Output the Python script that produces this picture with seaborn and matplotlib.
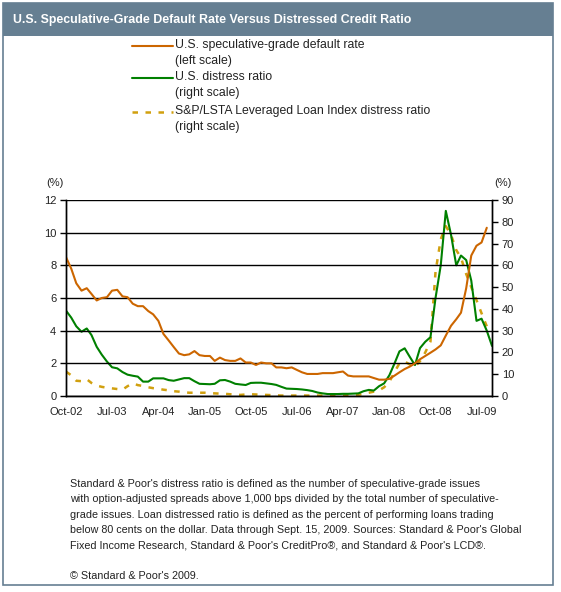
import numpy as np
import pandas as pd
import matplotlib
matplotlib.use("Agg")
import matplotlib.pyplot as plt
import matplotlib.patches as mpatches
import seaborn as sns

# ---------------- data (monthly, Oct-02 onwards) ----------------
start_month = "2002-10-01"
default_rate = [8.5, 7.8, 6.9, 6.45, 6.6, 6.25, 5.85, 6.0, 6.05, 6.45,
                6.5, 6.1, 6.05, 5.65, 5.5, 5.5, 5.2, 5.0, 4.6, 3.8,
                3.4, 3.0, 2.6, 2.5, 2.55, 2.75, 2.5, 2.45, 2.45, 2.15,
                2.35, 2.2, 2.15, 2.15, 2.3, 2.05, 2.05, 1.9, 2.05, 2.0,
                2.0, 1.75, 1.75, 1.7, 1.75, 1.6, 1.45, 1.35, 1.35, 1.35,
                1.4, 1.4, 1.4, 1.45, 1.5, 1.25, 1.2, 1.2, 1.2, 1.2,
                1.1, 1.0, 1.0, 1.05, 1.25, 1.45, 1.65, 1.8, 2.0, 2.25,
                2.45, 2.65, 2.85, 3.1, 3.7, 4.3, 4.7, 5.1, 6.6, 8.6,
                9.2, 9.4, 10.3]
distress_ratio = [39.2, 36, 32, 29.5, 31, 28, 22.6, 19, 15.8, 13.2,
                  12.7, 11, 9.8, 9.3, 8.9, 6.6, 6.6, 8.1, 8.1, 8.1,
                  7.3, 7.0, 7.6, 8.2, 8.2, 6.8, 5.6, 5.5, 5.4, 5.6,
                  7.2, 7.35, 6.6, 5.6, 5.3, 5.05, 6.0, 6.1, 6.1, 5.8,
                  5.5, 5.1, 4.2, 3.4, 3.3, 3.2, 3.0, 2.7, 2.3, 1.6,
                  1.2, 0.9, 0.9, 0.9, 1.0, 1.0, 1.1, 1.2, 2.2, 2.8,
                  2.5, 4.5, 5.8, 9.5, 15, 20.5, 21.9, 18, 14.2, 22,
                  24.9, 27, 45, 60, 85, 74, 60, 64.5, 62.4, 53,
                  34.5, 35.5, 30, 23]
loan_distress = [11.2, 9.5, 7.0, 6.8, 7.7, 6.0, 4.8, 4.2, 3.8, 3.5,
                 3.2, 2.9, 4.5, 5.8, 5.0, 4.6, 4.0, 3.6, 3.3, 2.9,
                 2.6, 2.2, 2.0, 1.7, 1.5, 1.5, 1.5, 1.5, 1.3, 1.2,
                 1.1, 1.0, 0.8, 0.6, 0.5, 0.7, 0.8, 0.7, 0.5, 0.5,
                 0.4, 0.3, 0.2, 0.2, 0.2, 0.2, 0.2, 0.2, 0.2, 0.2,
                 0.2, 0.2, 0.2, 0.2, 0.2, 0.3, 0.4, 0.5, 1.0, 1.5,
                 2.0, 2.6, 4.0, 6.5, 11, 15, 15.8, 14.5, 13.5, 16,
                 20, 25, 57, 72, 78, 74, 67, 63.5, 56, 50,
                 44, 38, 32]
tick_labels = ["Oct-02", "Jul-03", "Apr-04", "Jan-05", "Oct-05",
               "Jul-06", "Apr-07", "Jan-08", "Oct-08", "Jul-09"]
left_ticks = [0, 2, 4, 6, 8, 10, 12]
right_ticks = [0, 10, 20, 30, 40, 50, 60, 70, 80, 90]

series_names = ["U.S. speculative-grade default rate\n(left scale)",
                "U.S. distress ratio\n(right scale)",
                "S&P/LSTA Leveraged Loan Index distress ratio\n(right scale)"]

title = "U.S. Speculative-Grade Default Rate Versus Distressed Credit Ratio"
footnote = ("Standard & Poor's distress ratio is defined as the number of speculative-grade issues\n"
            "with option-adjusted spreads above 1,000 bps divided by the total number of speculative-\n"
            "grade issues. Loan distressed ratio is defined as the percent of performing loans trading\n"
            "below 80 cents on the dollar. Data through Sept. 15, 2009. Sources: Standard & Poor's Global\n"
            "Fixed Income Research, Standard & Poor's CreditPro\u00ae, and Standard & Poor's LCD\u00ae.")
copyright_txt = "\u00a9 Standard & Poor's 2009."

# ---------------- build frames ----------------
dates = pd.date_range(start_month, periods=len(distress_ratio), freq="MS")
df_def = pd.DataFrame({"date": dates[:len(default_rate)], "val": default_rate})
df_dis = pd.DataFrame({"date": dates[:len(distress_ratio)], "val": distress_ratio})
df_loan = pd.DataFrame({"date": dates[:len(loan_distress)], "val": loan_distress})

ORANGE = "#CC6600"
GREEN = "#008000"
GOLD = "#D1A00F"
BAR = "#667F92"
TXT = "#222222"

sns.set_style("white")
plt.rcParams["font.family"] = ["Liberation Sans", "DejaVu Sans"]

fig = plt.figure(figsize=(5.61, 5.92), dpi=100)
W, H = 561, 592

# frame and title bar
fig.patches.append(mpatches.Rectangle((3 / W, 1 - 585 / H), 550 / W, 582 / H,
                                      transform=fig.transFigure, fill=False,
                                      edgecolor=BAR, lw=1.2))
fig.patches.append(mpatches.Rectangle((3 / W, 1 - 36 / H), 550 / W, 33 / H,
                                      transform=fig.transFigure, facecolor=BAR,
                                      edgecolor=BAR, lw=0))
fig.text(13 / W, 1 - 20 / H, title, color="white", fontsize=8.9,
         fontweight="bold", va="center", ha="left")

ax = fig.add_axes([66 / W, 1 - 396 / H, 426 / W, 196 / H])
ax2 = ax.twinx()

sns.lineplot(data=df_def, x="date", y="val", ax=ax, color=ORANGE, lw=1.5)
sns.lineplot(data=df_loan, x="date", y="val", ax=ax2, color=GOLD, lw=1.8)
ax2.lines[-1].set_linestyle((0, (2.2, 3.0)))
sns.lineplot(data=df_dis, x="date", y="val", ax=ax2, color=GREEN, lw=1.5)

ax.set_zorder(ax2.get_zorder() + 1)
ax.patch.set_visible(False)

ax.set_xlim(dates[0], dates[-1])
ax.set_ylim(0, 12)
ax2.set_ylim(0, 90)
ax.set_yticks(left_ticks)
ax2.set_yticks(right_ticks)
ax.set_yticklabels([str(v) for v in left_ticks])
ax2.set_yticklabels([str(v) for v in right_ticks])
tick_pos = [pd.to_datetime(t, format="%b-%y") for t in tick_labels]
ax.set_xticks(tick_pos)
ax.set_xticklabels(tick_labels)
ax.set_xlabel("")
ax.set_ylabel("")
ax2.set_ylabel("")

for a in (ax, ax2):
    for s in a.spines.values():
        s.set_color("black")
        s.set_linewidth(1.0)
    a.spines["top"].set_visible(False)
ax.tick_params(axis="both", which="both", length=4, width=1, color="black",
               labelsize=8, labelcolor=TXT, direction="out", pad=3)
ax2.tick_params(axis="y", length=4, width=1, color="black", labelsize=8,
                labelcolor=TXT, direction="out", pad=3)
ax.tick_params(axis="x", pad=4)
ax.yaxis.grid(True, color="black", lw=1.0)
ax.xaxis.grid(False)
ax2.grid(False)

fig.text(55 / W, 1 - 183 / H, "(%)", fontsize=8, color=TXT, ha="center", va="center")
fig.text(503 / W, 1 - 183 / H, "(%)", fontsize=8, color=TXT, ha="center", va="center")

# legend (manual, figure coords)
leg_y = [46, 78, 112]
styles = [dict(color=ORANGE, lw=1.5, ls="-"),
          dict(color=GREEN, lw=1.5, ls="-"),
          dict(color=GOLD, lw=1.8, ls=(0, (2.2, 3.0)))]
for yy, st, name in zip(leg_y, styles, series_names):
    fig.add_artist(plt.Line2D([132 / W, 173 / W], [1 - yy / H, 1 - yy / H],
                              transform=fig.transFigure, **st))
    fig.text(175 / W, 1 - (yy - 7) / H, name, fontsize=8.8, color=TXT,
             ha="left", va="top", linespacing=1.4)

fig.text(70 / W, 1 - 479 / H, footnote, fontsize=7.75, color=TXT, ha="left",
         va="top", linespacing=1.66)
fig.text(70 / W, 1 - 571 / H, copyright_txt, fontsize=7.75, color=TXT,
         ha="left", va="top")

fig.savefig("out.png", dpi=100)
